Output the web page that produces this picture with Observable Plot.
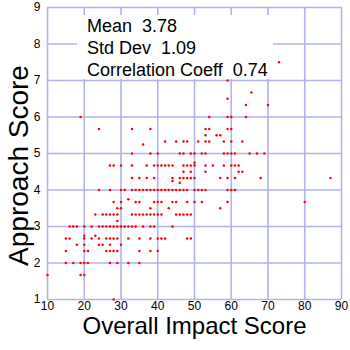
<!DOCTYPE html>
<html>
<head>
<meta charset="utf-8">
<script src="https://cdn.jsdelivr.net/npm/d3@7"></script>
<script src="https://cdn.jsdelivr.net/npm/@observablehq/plot@0.6"></script>
<style>
  html, body { margin: 0; padding: 0; background: white; }
  #wrap { position: relative; width: 350px; height: 350px; font-family: "Liberation Sans", Arial, sans-serif; }
  #stats { position: absolute; left: 77px; top: 15px; width: 196px; height: 64px; background: white; }
  .stat { position: absolute; left: 10px; font-size: 18px; line-height: 18px; color: #000; white-space: pre; }
</style>
</head>
<body>
<div id="wrap"></div>
<script>
// Approach score levels and the Overall Impact scores observed at each level
const approachLevels = [7.5, 7.0, 6.67, 6.5, 6.33, 6.0, 5.67, 5.5, 5.33, 5.25, 5.0, 4.75, 4.67, 4.5, 4.33, 4.25, 4.2, 4.0, 3.75, 3.67, 3.5, 3.33, 3.15, 3.0, 2.75, 2.67, 2.5, 2.33, 2.0, 1.67, 1.0];
const impactAtLevel = [
  [73],
  [59],
  [65.5],
  [59],
  [64, 70],
  [19, 54, 59, 60, 64],
  [24, 33, 38, 53, 54, 59, 60],
  [53, 56, 57],
  [42, 45, 47, 48, 51, 53, 54, 58, 60, 63],
  [36],
  [33, 38, 40, 46, 47, 49, 50, 52, 53, 58, 59, 60, 61, 65, 67, 69],
  [50],
  [27, 28, 30, 33, 37, 39, 40, 41, 42, 43, 44, 47, 48, 49, 50, 53, 55, 58, 60, 61, 62],
  [47, 49, 53, 62, 63],
  [33, 35, 37, 39, 44, 46, 47, 48, 49, 50, 57, 59, 61, 68, 87],
  [44],
  [46],
  [24, 27, 30, 31, 33, 34, 35, 36, 37, 38, 39, 40, 41, 42, 43, 44, 45, 46, 47, 48, 50, 51, 52, 53, 59, 60, 61],
  [32],
  [28, 30, 34, 35, 39, 40, 41, 44, 45, 48, 50, 52, 59, 80],
  [29, 30, 38, 43, 57],
  [23, 25, 26, 27, 28, 29, 33, 34, 35, 36, 37, 38, 39, 40, 41, 45, 46, 47, 48, 49],
  [29],
  [16, 17, 18, 20, 22, 24, 25, 26, 27, 28, 29, 30, 31, 32, 33, 34, 36, 38, 39, 44],
  [20, 23],
  [15, 16, 20, 22, 24, 26, 27, 28, 29, 32, 35, 38, 40, 41, 42, 48, 49],
  [18, 20, 24, 25, 27, 30],
  [15, 20, 21, 26, 27, 28, 29, 35, 38, 40],
  [15, 17, 19, 20, 21, 27, 29, 32, 35],
  [10, 19, 20],
  [28]
];
const xTicks = [10, 20, 30, 40, 50, 60, 70, 80, 90];
const yTicks = [1, 2, 3, 4, 5, 6, 7, 8, 9];
const statLines = ["Mean  3.78", "Std Dev  1.09", "Correlation Coeff  0.74"];
const xTitle = "Overall Impact Score";
const yTitle = "Approach Score";

const points = [];
approachLevels.forEach((y, i) => impactAtLevel[i].forEach(x => points.push({impact: x, approach: y})));

const gridColor = "#b2b2ec";
const font = "Liberation Sans, Arial, sans-serif";

const chart = Plot.plot({
  width: 350,
  height: 350,
  marginLeft: 47,
  marginRight: 9,
  marginTop: 7,
  marginBottom: 51,
  style: {fontFamily: font, fontSize: "12px", color: "#000", background: "white"},
  x: {domain: [10, 90], ticks: xTicks, tickSize: 0, tickPadding: 2, label: null},
  y: {domain: [1, 9], ticks: yTicks, tickSize: 0, tickPadding: 7, label: null},
  marks: [
    Plot.ruleX(xTicks, {stroke: gridColor, strokeWidth: 1.6}),
    Plot.ruleY(yTicks, {stroke: gridColor, strokeWidth: 1.6}),
    Plot.dot(points, {x: "impact", y: "approach", r: 1.25, fill: "#ff0000", stroke: "none"}),
    Plot.text([xTitle], {frameAnchor: "bottom", dy: 34, fontSize: 24, fill: "#000", fontFamily: font}),
    Plot.text([yTitle], {frameAnchor: "left", textAnchor: "middle", rotate: -90, dx: -28, dy: 12, fontSize: 28, fill: "#000", fontFamily: font})
  ]
});

const wrap = document.getElementById("wrap");
wrap.appendChild(chart);
const box = document.createElement("div");
box.id = "stats";
const tops = [2, 24, 46];
statLines.forEach((t, i) => {
  const d = document.createElement("div");
  d.className = "stat";
  d.style.top = tops[i] + "px";
  d.textContent = t;
  box.appendChild(d);
});
wrap.appendChild(box);
</script>
</body>
</html>
